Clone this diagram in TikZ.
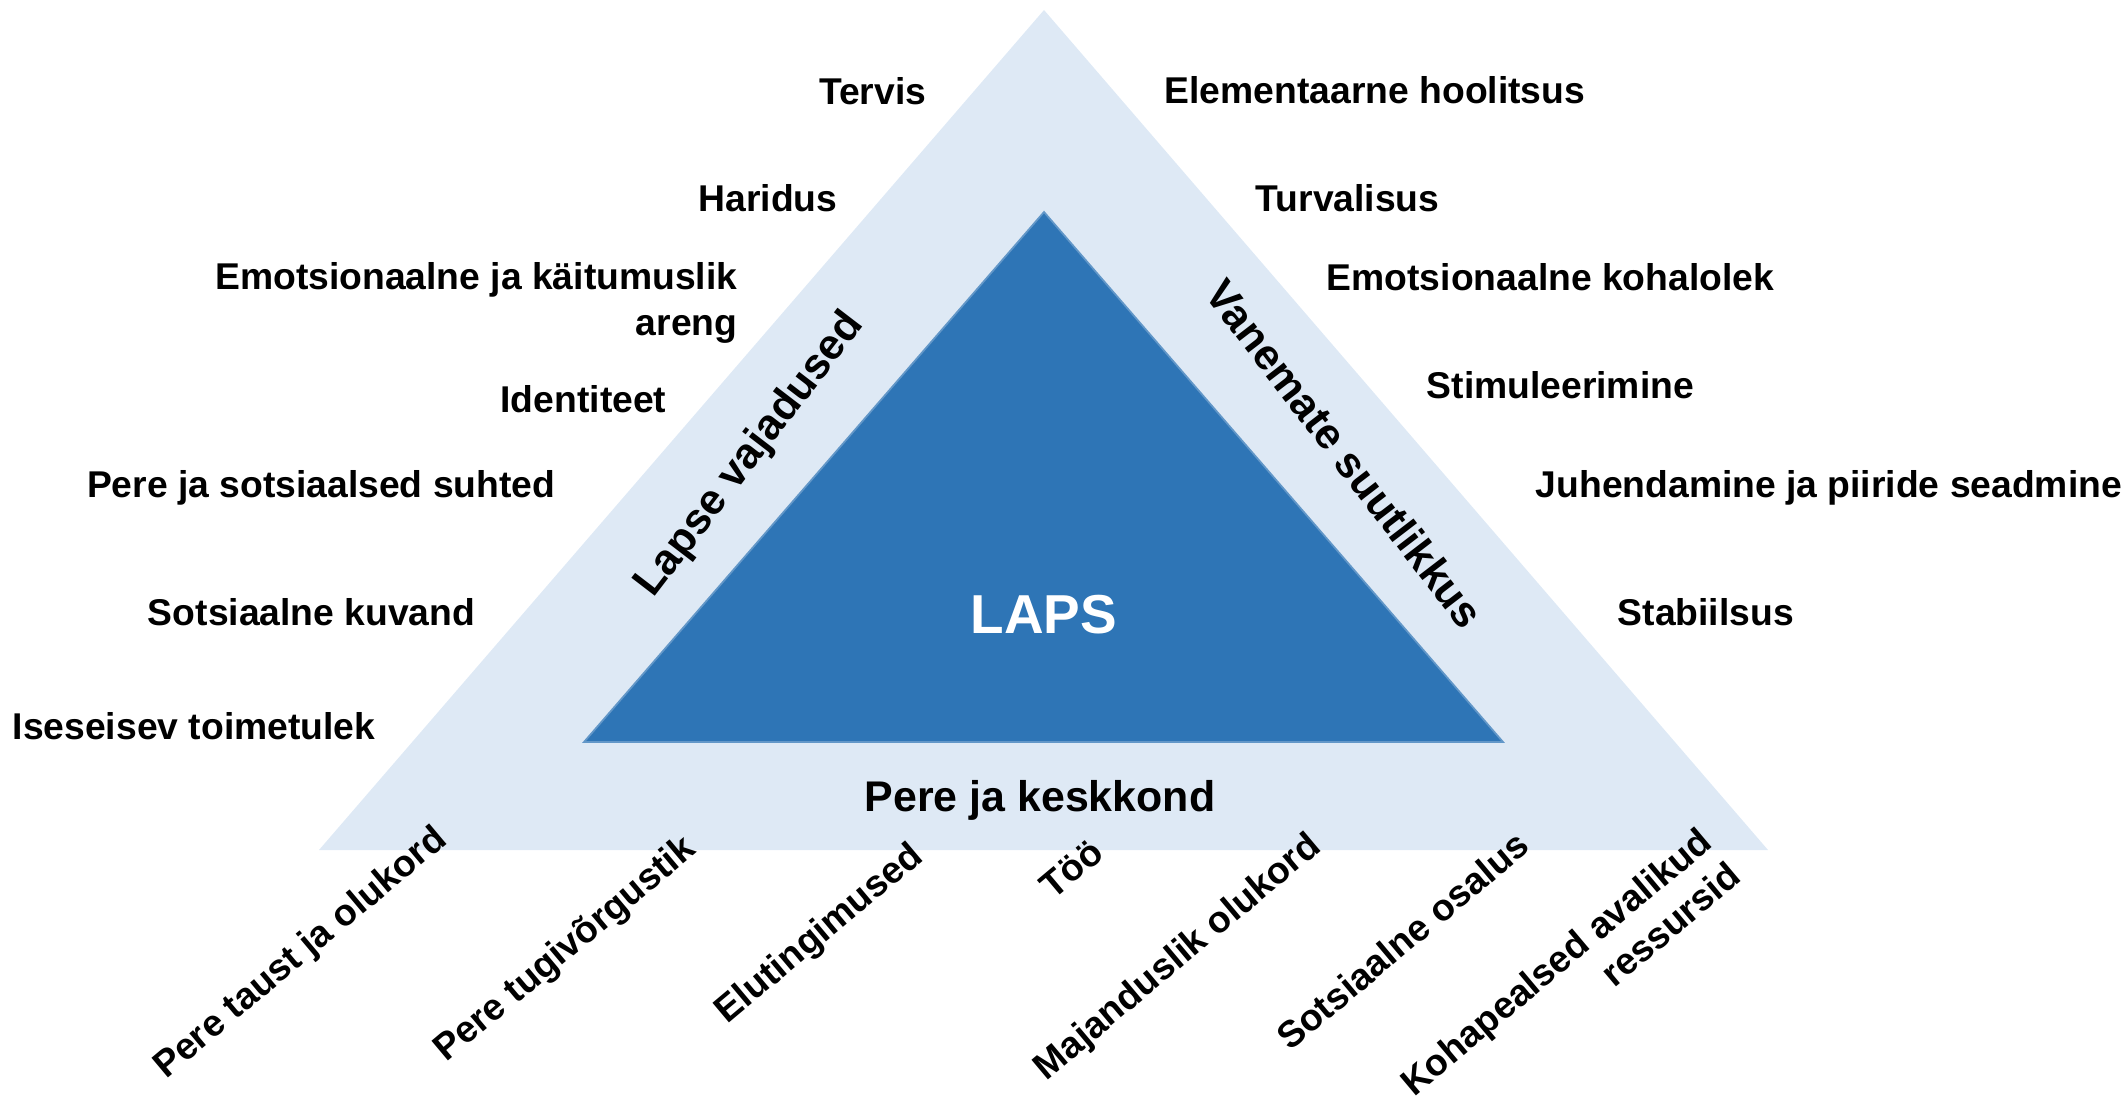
\documentclass[tikz,border=0pt]{standalone}
\usepackage{fontspec}
\setmainfont{Liberation Sans}
\definecolor{outerfill}{RGB}{222,233,245}
\definecolor{innerfill}{RGB}{46,117,182}

\begin{document}
\begin{tikzpicture}[x=0.01cm, y=-0.01cm,
		item/.style={inner sep=0pt, font=\fontsize{10.6}{12.8}\selectfont\bfseries},
		need/.style={item, anchor=base east},
		ability/.style={item, anchor=base west},
		env/.style={item, anchor=base east, rotate=40},
		side/.style={inner sep=0pt, font=\fontsize{12.2}{14}\selectfont\bfseries}]
		\useasboundingbox (0,0) rectangle (2125,1097);
		\coordinate (Otop)   at (1044,  10);
		\coordinate (Oleft)  at ( 319, 850);
		\coordinate (Oright) at (1768, 850);
		\coordinate (Itop)   at (1044, 212);
		\coordinate (Ileft)  at ( 584, 742);
		\coordinate (Iright) at (1503, 742);
		\fill[outerfill] (Otop) -- (Oleft) -- (Oright) -- cycle;
		\fill[innerfill, draw=innerfill!75!white, line width=0.5pt] (Itop) -- (Ileft) -- (Iright) -- cycle;
		\node[inner sep=0pt, anchor=base, text=white, font=\fontsize{15.6}{18}\selectfont\bfseries] (laps) at (1044, 633) {LAPS};
		\node[side, rotate=52.5]  (needs)    at (750, 455)  {Lapse vajadused};
		\node[side, rotate=-52.5] (capacity) at (1345, 454) {Vanemate suutlikkus};
		\node[side, anchor=base]  (family)   at (1040, 811) {Pere ja keskkond};
		\node[need] (tervis)   at (927, 105) {Tervis};
		\node[need] (haridus)  at (838, 212) {Haridus};
		\node[need, align=right] (areng) at (738, 335) {Emotsionaalne ja käitumuslik\\areng};
		\node[need] (ident)    at (667, 412) {Identiteet};
		\node[need] (suhted)   at (556, 497) {Pere ja sotsiaalsed suhted};
		\node[need] (kuvand)   at (476, 625) {Sotsiaalne kuvand};
		\node[need] (toimetul) at (376, 739) {Iseseisev toimetulek};
		\node[ability] (hoolitsus) at (1164, 104) {Elementaarne hoolitsus};
		\node[ability] (turva)     at (1255, 212) {Turvalisus};
		\node[ability] (kohalolek) at (1326, 290) {Emotsionaalne kohalolek};
		\node[ability] (stimul)    at (1426, 398) {Stimuleerimine};
		\node[ability] (juhend)    at (1535, 497) {Juhendamine ja piiride seadmine};
		\node[ability] (stabiil)   at (1617, 625) {Stabiilsus};
		\node[env] (taust)    at (449, 842)  {Pere taust ja olukord};
		\node[env] (tugi)     at (698, 852)  {Pere tugivõrgustik};
		\node[env] (elu)      at (925, 859)  {Elutingimused};
		\node[env] (too)      at (1106, 856) {Töö};
		\node[env] (majandus) at (1323, 849) {Majanduslik olukord};
		\node[env] (osalus)   at (1532, 849) {Sotsiaalne osalus};
		\node[env, anchor=north east, align=right] (ressurss) at (1697, 824) {Kohapealsed avalikud\\ressursid};
	\end{tikzpicture}
\end{document}
